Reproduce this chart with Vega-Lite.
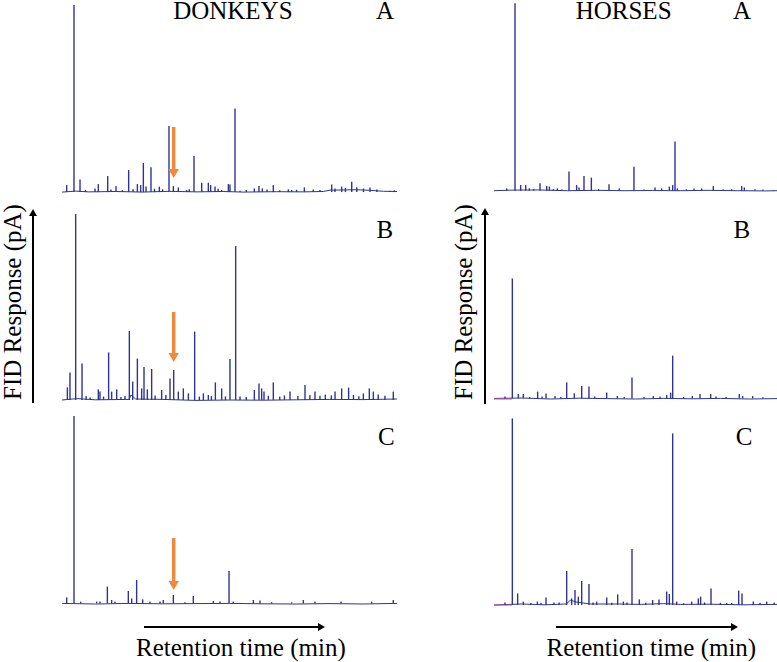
{
  "$schema": "https://vega.github.io/schema/vega-lite/v6.json",
  "autosize": {"type": "none"},
  "padding": {"left": 62, "top": 0, "right": 715, "bottom": 662},
  "background": "white",
  "config": {
    "view": {"stroke": null},
    "text": {"font": "Liberation Serif", "fontSize": 25, "color": "black"}
  },
  "datasets": {
    "peaks_DA": [
      {"t":0.70,"v":5.1},{"t":1.79,"v":97.4},{"t":2.69,"v":8.0},{"t":3.5,"v":2.6},{"t":4.93,"v":3.4},{"t":5.42,"v":5.6},{"t":6.82,"v":9.7},{"t":7.3,"v":2.8},{"t":8.06,"v":4.6},{"t":9.0,"v":2.5},{"t":9.95,"v":12.8},{"t":10.6,"v":3.0},{"t":11.25,"v":5.6},{"t":11.74,"v":5.1},{"t":12.14,"v":16.4},{"t":12.54,"v":4.3},{"t":13.28,"v":14.2},{"t":13.8,"v":3.2},{"t":14.53,"v":4.3},{"t":15.02,"v":2.9},{"t":15.97,"v":35.4},{"t":16.62,"v":4.6},{"t":17.36,"v":3.9},{"t":18.6,"v":2.6},{"t":19.0,"v":3.0},{"t":19.7,"v":20.0},{"t":20.85,"v":6.3},{"t":21.84,"v":6.3},{"t":22.19,"v":5.1},{"t":22.84,"v":4.3},{"t":23.3,"v":3.2},{"t":23.83,"v":2.6},{"t":24.83,"v":5.6},{"t":25.07,"v":5.4},{"t":25.82,"v":44.4},{"t":26.57,"v":2.2},{"t":27.5,"v":2.6},{"t":28.71,"v":3.4},{"t":29.4,"v":4.6},{"t":29.9,"v":3.4},{"t":30.6,"v":2.8},{"t":31.54,"v":5.1},{"t":32.5,"v":2.5},{"t":33.78,"v":2.9},{"t":34.28,"v":2.6},{"t":35.0,"v":2.7},{"t":36.17,"v":3.9},{"t":37.5,"v":2.8},{"t":38.5,"v":2.6},{"t":40.25,"v":5.4},{"t":40.75,"v":3.4},{"t":41.74,"v":4.3},{"t":42.3,"v":3.6},{"t":43.24,"v":6.8},{"t":44.0,"v":4.0},{"t":45.0,"v":3.3},{"t":45.97,"v":3.8},{"t":47.0,"v":2.8},{"t":48.96,"v":2.2},{"t":49.6,"v":2.4}
    ],
    "base_DA": [
      {"t":0,"v":1.5},{"t":2,"v":2.0},{"t":4,"v":1.6},{"t":8,"v":1.8},{"t":12,"v":1.5},{"t":16,"v":1.9},{"t":20,"v":1.6},{"t":24,"v":1.8},{"t":27,"v":1.5},{"t":32,"v":1.7},{"t":36,"v":1.6},{"t":39,"v":1.8},{"t":40,"v":2.5},{"t":44,"v":2.7},{"t":46,"v":2.4},{"t":48,"v":1.9},{"t":50,"v":1.8}
    ],
    "peaks_DB": [
      {"t":0.80,"v":8.8},{"t":1.19,"v":16.2},{"t":2.04,"v":95.5},{"t":2.99,"v":20.8},{"t":3.6,"v":4.5},{"t":4.2,"v":3.8},{"t":5.42,"v":7.8},{"t":5.67,"v":6.7},{"t":6.2,"v":4.2},{"t":6.96,"v":26.3},{"t":7.41,"v":6.7},{"t":8.16,"v":7.8},{"t":8.8,"v":4.0},{"t":9.4,"v":4.5},{"t":10.05,"v":37.0},{"t":10.55,"v":11.7},{"t":11.25,"v":23.2},{"t":11.89,"v":8.3},{"t":12.24,"v":19.0},{"t":12.74,"v":7.8},{"t":13.38,"v":18.0},{"t":13.9,"v":4.8},{"t":14.87,"v":7.5},{"t":15.5,"v":5.0},{"t":16.12,"v":13.3},{"t":16.67,"v":17.5},{"t":17.36,"v":6.7},{"t":18.11,"v":8.3},{"t":18.86,"v":5.8},{"t":19.8,"v":36.7},{"t":20.5,"v":4.2},{"t":21.1,"v":5.8},{"t":21.84,"v":5.0},{"t":22.3,"v":4.5},{"t":22.89,"v":11.3},{"t":23.83,"v":8.3},{"t":24.4,"v":4.3},{"t":25.07,"v":23.0},{"t":25.92,"v":79.5},{"t":26.57,"v":4.2},{"t":27.5,"v":4.0},{"t":28.71,"v":7.5},{"t":29.4,"v":10.8},{"t":29.8,"v":8.3},{"t":30.15,"v":6.7},{"t":30.8,"v":4.6},{"t":31.54,"v":11.3},{"t":32.5,"v":4.2},{"t":33.2,"v":4.8},{"t":34.03,"v":6.7},{"t":35.2,"v":4.5},{"t":36.27,"v":10.0},{"t":37.0,"v":5.0},{"t":37.76,"v":6.7},{"t":38.5,"v":4.6},{"t":39.3,"v":5.2},{"t":40.2,"v":4.8},{"t":40.75,"v":6.7},{"t":41.74,"v":8.3},{"t":42.78,"v":8.7},{"t":43.5,"v":5.0},{"t":44.3,"v":4.4},{"t":44.98,"v":5.8},{"t":45.87,"v":8.3},{"t":46.47,"v":6.7},{"t":47.2,"v":5.2},{"t":48.2,"v":4.6},{"t":49.45,"v":6.7}
    ],
    "base_DB": [
      {"t":0,"v":2.5},{"t":2.2,"v":3.2},{"t":5,"v":2.6},{"t":10,"v":2.8},{"t":10.3,"v":5.0},{"t":11,"v":3.0},{"t":15,"v":2.8},{"t":20,"v":2.3},{"t":25,"v":2.5},{"t":30,"v":2.4},{"t":35,"v":2.6},{"t":40,"v":2.8},{"t":45,"v":2.7},{"t":50,"v":3.0}
    ],
    "peaks_DC": [
      {"t":0.70,"v":6.3},{"t":1.79,"v":97.0},{"t":2.78,"v":4.2},{"t":5.17,"v":4.2},{"t":5.67,"v":4.2},{"t":6.77,"v":11.7},{"t":7.41,"v":5.0},{"t":7.91,"v":4.2},{"t":9.9,"v":9.5},{"t":10.4,"v":5.8},{"t":11.14,"v":15.0},{"t":12.04,"v":5.3},{"t":13.13,"v":4.2},{"t":14.63,"v":4.2},{"t":15.12,"v":5.0},{"t":16.62,"v":7.5},{"t":18.36,"v":3.9},{"t":19.6,"v":7.0},{"t":22.59,"v":4.5},{"t":23.58,"v":4.2},{"t":24.93,"v":19.5},{"t":25.57,"v":4.2},{"t":28.56,"v":5.0},{"t":29.55,"v":4.7},{"t":31.29,"v":3.9},{"t":34.28,"v":3.8},{"t":36.02,"v":5.0},{"t":37.76,"v":4.2},{"t":41.64,"v":4.2},{"t":46.22,"v":4.2},{"t":49.45,"v":5.0}
    ],
    "base_DC": [
      {"t":0,"v":3.3},{"t":5,"v":3.0},{"t":10,"v":3.3},{"t":15,"v":3.1},{"t":20,"v":3.2},{"t":25,"v":3.3},{"t":30,"v":3.1},{"t":35,"v":3.0},{"t":40,"v":3.2},{"t":45,"v":3.0},{"t":50,"v":3.3}
    ],
    "peaks_HA": [
      {"t":2.24,"v":3.4},{"t":3.71,"v":98.3},{"t":4.71,"v":5.1},{"t":5.6,"v":5.1},{"t":6.24,"v":3.4},{"t":7.0,"v":3.0},{"t":8.13,"v":6.0},{"t":9.31,"v":4.6},{"t":9.78,"v":4.3},{"t":10.5,"v":3.0},{"t":11.19,"v":3.4},{"t":12.0,"v":2.8},{"t":13.25,"v":12.0},{"t":14.6,"v":5.1},{"t":15.02,"v":3.9},{"t":15.9,"v":9.7},{"t":17.2,"v":8.9},{"t":18.5,"v":2.9},{"t":20.32,"v":5.5},{"t":22.14,"v":3.4},{"t":24.73,"v":14.5},{"t":26.5,"v":2.8},{"t":28.45,"v":3.8},{"t":29.62,"v":3.4},{"t":30.98,"v":4.3},{"t":31.57,"v":5.1},{"t":31.98,"v":27.4},{"t":32.39,"v":3.4},{"t":34.0,"v":2.9},{"t":35.34,"v":3.4},{"t":36.69,"v":3.4},{"t":38.75,"v":4.6},{"t":40.5,"v":2.8},{"t":42.0,"v":3.0},{"t":43.76,"v":4.6},{"t":44.23,"v":3.9},{"t":46.11,"v":2.9},{"t":47.5,"v":2.8},{"t":49.35,"v":2.6}
    ],
    "base_HA": [
      {"t":0,"v":2.2},{"t":3,"v":2.5},{"t":8,"v":2.6},{"t":13,"v":2.2},{"t":18,"v":2.4},{"t":23,"v":2.2},{"t":28,"v":2.3},{"t":33,"v":2.2},{"t":38,"v":2.4},{"t":43,"v":2.2},{"t":48,"v":2.1},{"t":50,"v":2.2}
    ],
    "peaks_HB": [
      {"t":1.94,"v":4.2},{"t":3.24,"v":63.3},{"t":4.3,"v":5.5},{"t":5.18,"v":5.5},{"t":6.3,"v":4.0},{"t":7.71,"v":6.7},{"t":8.5,"v":4.3},{"t":9.19,"v":5.8},{"t":10.78,"v":4.5},{"t":11.8,"v":4.0},{"t":12.84,"v":11.3},{"t":14.19,"v":5.8},{"t":15.49,"v":9.5},{"t":16.78,"v":9.2},{"t":17.8,"v":4.2},{"t":19.91,"v":6.2},{"t":21.79,"v":4.5},{"t":23.0,"v":4.0},{"t":24.38,"v":13.8},{"t":26.5,"v":4.0},{"t":28.15,"v":4.5},{"t":29.33,"v":4.2},{"t":30.51,"v":5.0},{"t":31.21,"v":6.2},{"t":31.57,"v":24.7},{"t":33.5,"v":4.0},{"t":35.04,"v":4.5},{"t":36.4,"v":5.5},{"t":38.28,"v":5.5},{"t":39.22,"v":4.2},{"t":41.0,"v":4.0},{"t":43.34,"v":5.5},{"t":43.93,"v":4.5},{"t":45.7,"v":4.5},{"t":47.5,"v":3.9}
    ],
    "base_HB": [
      {"t":0,"v":3.3},{"t":5,"v":3.5},{"t":10,"v":3.0},{"t":15,"v":3.4},{"t":20,"v":3.2},{"t":25,"v":3.0},{"t":30,"v":3.3},{"t":35,"v":3.1},{"t":40,"v":3.3},{"t":45,"v":3.0},{"t":50,"v":3.2}
    ],
    "pink_HB": [{"t":0,"v":3.0},{"t":3.2,"v":3.0}],
    "peaks_HC": [
      {"t":1.94,"v":3.8},{"t":3.24,"v":95.8},{"t":4.18,"v":8.3},{"t":5.18,"v":4.2},{"t":6.5,"v":3.5},{"t":7.66,"v":4.2},{"t":8.3,"v":3.6},{"t":9.19,"v":6.3},{"t":10.6,"v":3.7},{"t":11.5,"v":3.8},{"t":12.84,"v":19.5},{"t":13.72,"v":5.8},{"t":14.31,"v":10.0},{"t":14.9,"v":6.7},{"t":15.49,"v":14.5},{"t":16.78,"v":13.0},{"t":17.5,"v":3.8},{"t":18.14,"v":4.2},{"t":19.91,"v":6.3},{"t":20.8,"v":3.6},{"t":21.85,"v":7.8},{"t":22.85,"v":4.2},{"t":23.5,"v":3.8},{"t":24.38,"v":30.5},{"t":25.68,"v":5.3},{"t":26.8,"v":3.6},{"t":28.03,"v":5.0},{"t":29.15,"v":5.3},{"t":30.51,"v":9.2},{"t":30.98,"v":8.0},{"t":31.57,"v":88.3},{"t":32.27,"v":4.2},{"t":33.5,"v":3.4},{"t":34.92,"v":4.2},{"t":36.1,"v":5.8},{"t":36.51,"v":6.7},{"t":37.2,"v":3.8},{"t":38.34,"v":10.8},{"t":40.0,"v":3.6},{"t":41.11,"v":3.5},{"t":42.0,"v":3.5},{"t":43.23,"v":9.7},{"t":43.82,"v":8.3},{"t":45.81,"v":4.2},{"t":47.0,"v":3.6},{"t":48.18,"v":4.2},{"t":49.5,"v":3.7}
    ],
    "base_HC": [
      {"t":0,"v":2.5},{"t":5,"v":3.0},{"t":9,"v":2.6},{"t":12.8,"v":3.0},{"t":13.5,"v":5.0},{"t":14.5,"v":4.0},{"t":17,"v":3.0},{"t":22,"v":3.0},{"t":26,"v":2.8},{"t":30,"v":3.2},{"t":33,"v":2.8},{"t":38,"v":2.9},{"t":44,"v":2.6},{"t":50,"v":2.8}
    ],
    "pink_HC": [{"t":0,"v":2.5},{"t":3.2,"v":2.5}]
  },
  "bounds": "flush",
  "columns": 2,
  "spacing": {"row": 5, "column": 97},
  "concat": [
    {
      "width": 335, "height": 200,
      "encoding": {
        "x": {"field": "t", "type": "quantitative", "scale": {"domain": [0, 50], "nice": false, "zero": false}, "axis": null},
        "y": {"field": "v", "type": "quantitative", "scale": {"domain": [-2.56, 100], "nice": false, "zero": false}, "axis": null}
      },
      "layer": [
        {"data": {"name": "base_DA"}, "mark": {"type": "line", "color": "#2f3492", "strokeWidth": 1}, "encoding": {}},
        {"data": {"name": "peaks_DA"}, "mark": {"type": "rule", "color": "#2f3492", "strokeWidth": 1.4}, "encoding": {"y2": {"datum": 1.5}}},
        {"data": {"values": [{"t": 25.5, "v": 90.3, "label": "DONKEYS"}, {"t": 48.2, "v": 90.3, "label": "A"}]}, "mark": {"type": "text", "align": "center", "baseline": "alphabetic"}, "encoding": {"text": {"field": "label"}}},
        {"data": {"values": [{"t": 16.67, "v": 34.9, "v2": 11.8}]}, "mark": {"type": "rule", "color": "#ef8a3c", "strokeWidth": 3.5}, "encoding": {"y2": {"field": "v2"}}},
        {"data": {"values": [{"t": 16.67, "v": 11.0}]}, "mark": {"type": "point", "shape": "triangle-down", "filled": true, "color": "#ef8a3c", "size": 110, "opacity": 1, "strokeWidth": 0}, "encoding": {}}
      ]
    },
    {
      "width": 283, "height": 200,
      "encoding": {
        "x": {"field": "t", "type": "quantitative", "scale": {"domain": [0, 50], "nice": false, "zero": false}, "axis": null},
        "y": {"field": "v", "type": "quantitative", "scale": {"domain": [-2.56, 100], "nice": false, "zero": false}, "axis": null}
      },
      "layer": [
        {"data": {"name": "base_HA"}, "mark": {"type": "line", "color": "#2f3492", "strokeWidth": 1}, "encoding": {}},
        {"data": {"name": "peaks_HA"}, "mark": {"type": "rule", "color": "#2f3492", "strokeWidth": 1.4}, "encoding": {"y2": {"datum": 2.2}}},
        {"data": {"values": [{"t": 22.9, "v": 90.3, "label": "HORSES"}, {"t": 43.8, "v": 90.3, "label": "A"}]}, "mark": {"type": "text", "align": "center", "baseline": "alphabetic"}, "encoding": {"text": {"field": "label"}}}
      ]
    },
    {
      "width": 335, "height": 200,
      "encoding": {
        "x": {"field": "t", "type": "quantitative", "scale": {"domain": [0, 50], "nice": false, "zero": false}, "axis": null},
        "y": {"field": "v", "type": "quantitative", "scale": {"domain": [0, 100], "nice": false, "zero": false}, "axis": null}
      },
      "layer": [
        {"data": {"name": "base_DB"}, "mark": {"type": "line", "color": "#2f3492", "strokeWidth": 1}, "encoding": {}},
        {"data": {"name": "peaks_DB"}, "mark": {"type": "rule", "color": "#2f3492", "strokeWidth": 1.4}, "encoding": {"y2": {"datum": 2.5}}},
        {"data": {"values": [{"t": 48.2, "v": 83.5, "label": "B"}]}, "mark": {"type": "text", "align": "center", "baseline": "alphabetic"}, "encoding": {"text": {"field": "label"}}},
        {"data": {"values": [{"t": 16.67, "v": 46.5, "v2": 24.5}]}, "mark": {"type": "rule", "color": "#ef8a3c", "strokeWidth": 3.5}, "encoding": {"y2": {"field": "v2"}}},
        {"data": {"values": [{"t": 16.67, "v": 23.75}]}, "mark": {"type": "point", "shape": "triangle-down", "filled": true, "color": "#ef8a3c", "size": 110, "opacity": 1, "strokeWidth": 0}, "encoding": {}},
        {"data": {"values": [{"t": -4.33, "v": 1.0, "v2": 96.0}]}, "mark": {"type": "rule", "color": "black", "strokeWidth": 2}, "encoding": {"y2": {"field": "v2"}}},
        {"data": {"values": [{"t": -4.33, "v": 96.25}]}, "mark": {"type": "point", "shape": "triangle-up", "filled": true, "color": "black", "size": 64, "opacity": 1, "strokeWidth": 0}, "encoding": {}},
        {"data": {"values": [{"t": -7.3, "v": 51.5, "label": "FID Response (pA)"}]}, "mark": {"type": "text", "align": "center", "baseline": "middle", "angle": 270}, "encoding": {"text": {"field": "label"}}}
      ]
    },
    {
      "width": 283, "height": 200,
      "encoding": {
        "x": {"field": "t", "type": "quantitative", "scale": {"domain": [0, 50], "nice": false, "zero": false}, "axis": null},
        "y": {"field": "v", "type": "quantitative", "scale": {"domain": [0, 100], "nice": false, "zero": false}, "axis": null}
      },
      "layer": [
        {"data": {"name": "base_HB"}, "mark": {"type": "line", "color": "#2f3492", "strokeWidth": 1}, "encoding": {}},
        {"data": {"name": "pink_HB"}, "mark": {"type": "line", "color": "#d9468f", "strokeWidth": 1}, "encoding": {}},
        {"data": {"name": "peaks_HB"}, "mark": {"type": "rule", "color": "#2f3492", "strokeWidth": 1.4}, "encoding": {"y2": {"datum": 3.3}}},
        {"data": {"values": [{"t": 43.8, "v": 83.5, "label": "B"}]}, "mark": {"type": "text", "align": "center", "baseline": "alphabetic"}, "encoding": {"text": {"field": "label"}}},
        {"data": {"values": [{"t": -1.59, "v": 0.5, "v2": 96.5}]}, "mark": {"type": "rule", "color": "black", "strokeWidth": 2}, "encoding": {"y2": {"field": "v2"}}},
        {"data": {"values": [{"t": -1.59, "v": 96.75}]}, "mark": {"type": "point", "shape": "triangle-up", "filled": true, "color": "black", "size": 64, "opacity": 1, "strokeWidth": 0}, "encoding": {}},
        {"data": {"values": [{"t": -5.3, "v": 51.5, "label": "FID Response (pA)"}]}, "mark": {"type": "text", "align": "center", "baseline": "middle", "angle": 270}, "encoding": {"text": {"field": "label"}}}
      ]
    },
    {
      "width": 335, "height": 200,
      "encoding": {
        "x": {"field": "t", "type": "quantitative", "scale": {"domain": [0, 50], "nice": false, "zero": false}, "axis": null},
        "y": {"field": "v", "type": "quantitative", "scale": {"domain": [0, 100], "nice": false, "zero": false}, "axis": null}
      },
      "layer": [
        {"data": {"name": "base_DC"}, "mark": {"type": "line", "color": "#2f3492", "strokeWidth": 1}, "encoding": {}},
        {"data": {"name": "peaks_DC"}, "mark": {"type": "rule", "color": "#2f3492", "strokeWidth": 1.4}, "encoding": {"y2": {"datum": 3.3}}},
        {"data": {"values": [{"t": 48.4, "v": 82.5, "label": "C"}]}, "mark": {"type": "text", "align": "center", "baseline": "alphabetic"}, "encoding": {"text": {"field": "label"}}},
        {"data": {"values": [{"t": 16.67, "v": 36.0, "v2": 13.0}]}, "mark": {"type": "rule", "color": "#ef8a3c", "strokeWidth": 3.5}, "encoding": {"y2": {"field": "v2"}}},
        {"data": {"values": [{"t": 16.67, "v": 12.25}]}, "mark": {"type": "point", "shape": "triangle-down", "filled": true, "color": "#ef8a3c", "size": 110, "opacity": 1, "strokeWidth": 0}, "encoding": {}},
        {"data": {"values": [{"t": 12.24, "t2": 38.66, "v": -8.5}]}, "mark": {"type": "rule", "color": "black", "strokeWidth": 2}, "encoding": {"x2": {"field": "t2"}}},
        {"data": {"values": [{"t": 38.73, "v": -8.5}]}, "mark": {"type": "point", "shape": "triangle-right", "filled": true, "color": "black", "size": 64, "opacity": 1, "strokeWidth": 0}, "encoding": {}},
        {"data": {"values": [{"t": 26.7, "v": -23, "label": "Retention time (min)"}]}, "mark": {"type": "text", "align": "center", "baseline": "alphabetic"}, "encoding": {"text": {"field": "label"}}}
      ]
    },
    {
      "width": 283, "height": 200,
      "encoding": {
        "x": {"field": "t", "type": "quantitative", "scale": {"domain": [0, 50], "nice": false, "zero": false}, "axis": null},
        "y": {"field": "v", "type": "quantitative", "scale": {"domain": [0, 100], "nice": false, "zero": false}, "axis": null}
      },
      "layer": [
        {"data": {"name": "base_HC"}, "mark": {"type": "line", "color": "#2f3492", "strokeWidth": 1}, "encoding": {}},
        {"data": {"name": "pink_HC"}, "mark": {"type": "line", "color": "#d9468f", "strokeWidth": 1}, "encoding": {}},
        {"data": {"name": "peaks_HC"}, "mark": {"type": "rule", "color": "#2f3492", "strokeWidth": 1.4}, "encoding": {"y2": {"datum": 2.5}}},
        {"data": {"values": [{"t": 44.2, "v": 82.5, "label": "C"}]}, "mark": {"type": "text", "align": "center", "baseline": "alphabetic"}, "encoding": {"text": {"field": "label"}}},
        {"data": {"values": [{"t": 10.95, "t2": 42.4, "v": -8.5}]}, "mark": {"type": "rule", "color": "black", "strokeWidth": 2}, "encoding": {"x2": {"field": "t2"}}},
        {"data": {"values": [{"t": 42.49, "v": -8.5}]}, "mark": {"type": "point", "shape": "triangle-right", "filled": true, "color": "black", "size": 64, "opacity": 1, "strokeWidth": 0}, "encoding": {}},
        {"data": {"values": [{"t": 27.8, "v": -23, "label": "Retention time (min)"}]}, "mark": {"type": "text", "align": "center", "baseline": "alphabetic"}, "encoding": {"text": {"field": "label"}}}
      ]
    }
  ]
}
